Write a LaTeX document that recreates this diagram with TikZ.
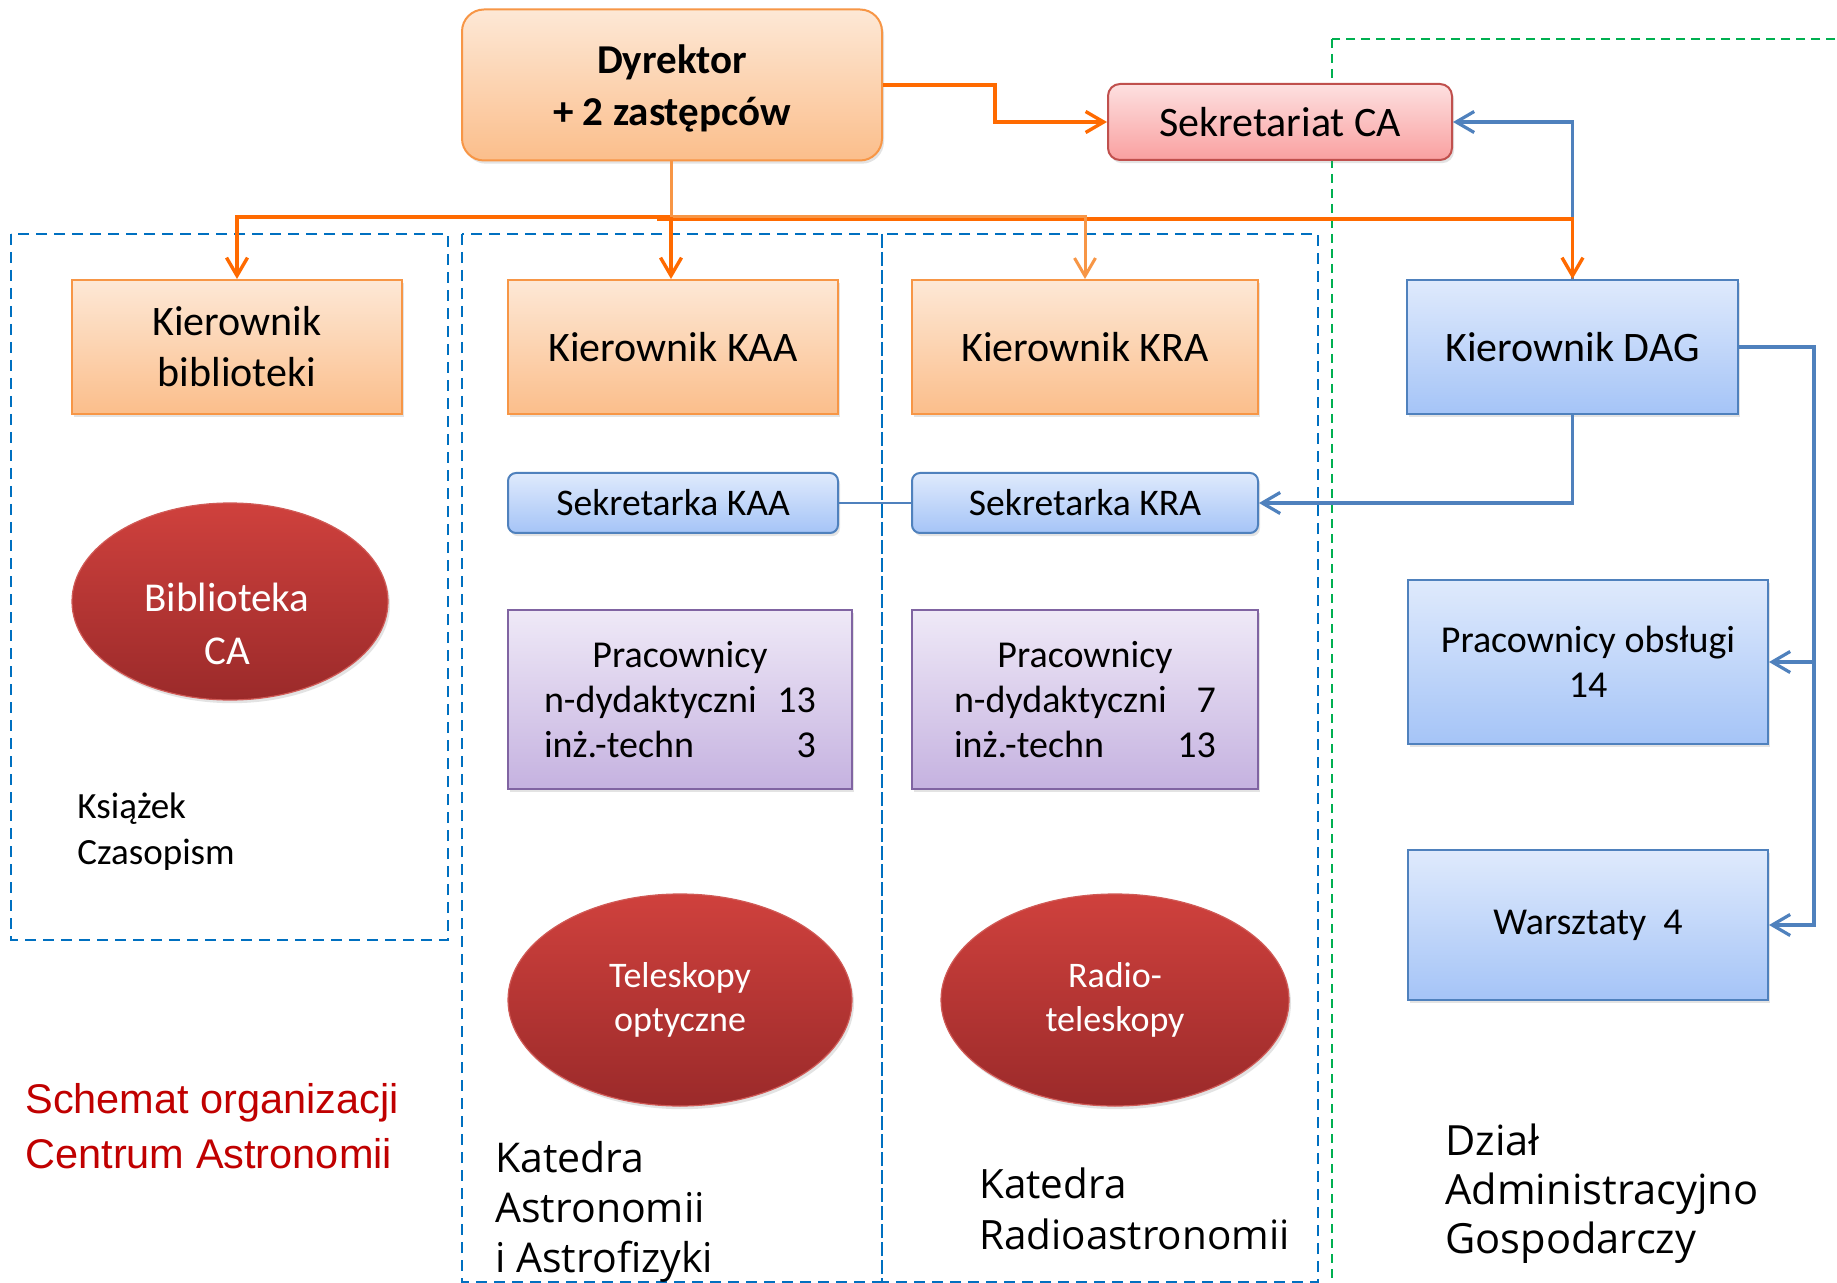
\documentclass[tikz,border=0pt]{standalone}
\usepackage{fontspec}
\setmainfont{Carlito}
\newfontfamily\arialfont{Liberation Sans}
\newfontfamily\handfont{Open Sans}
\usetikzlibrary{arrows.meta,shapes.geometric,shadows}
\definecolor{orDark}{HTML}{FF6A00}
\definecolor{orLight}{HTML}{F79646}
\definecolor{bxBlue}{HTML}{4F81BD}
\definecolor{dashBlue}{HTML}{0070C0}
\definecolor{dashGreen}{HTML}{00B050}
\definecolor{redTxt}{HTML}{C00000}
\definecolor{orTop}{HTML}{FDE8D6}
\definecolor{orBot}{HTML}{FBBE8B}
\definecolor{blTop}{HTML}{DFEAFC}
\definecolor{blBot}{HTML}{A5C4F7}
\definecolor{pkTop}{HTML}{FDE0E0}
\definecolor{pkBot}{HTML}{F9A0A0}
\definecolor{puTop}{HTML}{EFE9F7}
\definecolor{puBot}{HTML}{C5B2E0}
\definecolor{puLine}{HTML}{8064A2}
\definecolor{pkLine}{HTML}{C0504D}
\definecolor{elTop}{HTML}{CF413D}
\definecolor{elBot}{HTML}{9B2A2A}
\definecolor{elLine}{HTML}{D05A56}
\tikzset{
  shad/.style={drop shadow={opacity=0.22, shadow xshift=1pt, shadow yshift=-1.6pt}},
  basebox/.style={rectangle, inner sep=0pt, align=center, shad},
  orbox/.style={basebox, draw=orLight, line width=1pt, top color=orTop, bottom color=orBot,
    font=\fontsize{21}{25.5}\selectfont, minimum height=67pt},
  dyrbox/.style={orbox, rounded corners=11pt, font=\fontsize{20.5}{26}\selectfont\bfseries},
  pkbox/.style={basebox, draw=pkLine, line width=1pt, top color=pkTop, bottom color=pkBot,
    rounded corners=6pt, font=\fontsize{21}{25}\selectfont},
  blbox/.style={basebox, draw=bxBlue, line width=1pt, top color=blTop, bottom color=blBot,
    font=\fontsize{19}{22.5}\selectfont},
  sekbox/.style={blbox, rounded corners=4pt, font=\fontsize{18.8}{22}\selectfont},
  pubox/.style={basebox, draw=puLine, line width=1pt, top color=puTop, bottom color=puBot,
    font=\fontsize{19}{22.5}\selectfont},
  redell/.style={ellipse, inner sep=0pt, draw=elLine, line width=0.6pt, top color=elTop, bottom color=elBot,
    shad, text=white, align=center, font=\fontsize{18}{22}\selectfont},
  wtext/.style={inner sep=0pt, text=white, align=center},
  ltext/.style={inner sep=0pt, align=left, anchor=base west},
  dashB/.style={draw=dashBlue, line width=1.2pt, dash pattern=on 5.5pt off 3.5pt},
  dashG/.style={draw=dashGreen, line width=1pt, dash pattern=on 4.5pt off 3pt},
  arr/.style={-{Straight Barb[length=9pt,width=10.5pt]}},
  orD/.style={draw=orDark, line width=1.7pt},
  orL/.style={draw=orLight, line width=1.5pt},
  blL/.style={draw=bxBlue, line width=1.6pt},
  blThin/.style={draw=bxBlue, line width=0.75pt}
}
\begin{document}
\begin{tikzpicture}[x=0.5pt, y=-0.5pt]
\useasboundingbox[fill=white] (0,0) rectangle (1837,1283);
\clip (0,0) rectangle (1837,1283);

% dashed group frames
\draw[dashB] (11,234) rectangle (448,940);
\draw[dashB] (462,234) rectangle (882,1282);
\draw[dashB] (882,234) rectangle (1318,1282);
\draw[dashG] (1332,39) rectangle (1860,1300);

% nodes
\node[dyrbox, minimum width=210pt, minimum height=75.5pt] (dyr) at (672,85) {\rule{0pt}{17.5pt}Dyrektor\\+ 2 zastępców};
\node[pkbox, minimum width=172pt, minimum height=38pt] (sek) at (1280,122) {Sekretariat CA};

\node[orbox, minimum width=165pt] (kbib) at (237,347) {Kierownik\\biblioteki};
\node[orbox, minimum width=165pt] (kaa) at (673,347) {Kierownik KAA};
\node[orbox, minimum width=173pt] (kra) at (1085,347) {Kierownik KRA};
\node[blbox, minimum width=165.5pt, minimum height=67pt, font=\fontsize{21}{25}\selectfont] (dag) at (1572.5,347) {Kierownik DAG};

\node[sekbox, minimum width=165pt, minimum height=30pt] (skaa) at (673,503) {Sekretarka KAA};
\node[sekbox, minimum width=173pt, minimum height=30pt] (skra) at (1085,503) {Sekretarka KRA};

\node[pubox, minimum width=172pt, minimum height=89.5pt] (pkaa) at (680,699.5)
  {\begin{tabular*}{136pt}{@{}l@{\extracolsep{\fill}}r@{}}\multicolumn{2}{@{}c@{}}{\rule{0pt}{19.3pt}Pracownicy}\\ n-dydaktyczni & 13\\ inż.-techn & 3\end{tabular*}};
\node[pubox, minimum width=173pt, minimum height=89.5pt] (pkra) at (1085,699.5)
  {\begin{tabular*}{131pt}{@{}l@{\extracolsep{\fill}}r@{}}\multicolumn{2}{@{}c@{}}{\rule{0pt}{19.3pt}Pracownicy}\\ n-dydaktyczni & 7\\ inż.-techn & 13\end{tabular*}};

\node[blbox, minimum width=180pt, minimum height=82pt] (pobs) at (1588,662) {Pracownicy obsługi\\14};
\node[blbox, minimum width=180pt, minimum height=75pt] (wars) at (1588,925) {Warsztaty\ \ 4};

\node[redell, minimum width=158pt, minimum height=98.5pt] (bib) at (230,601.5) {};
\node[wtext, font=\fontsize{20.5}{26.5}\selectfont] (bibtxt) at (227,624) {Biblioteka\\CA};
\node[redell, minimum width=172pt, minimum height=106pt] (tel) at (680,1000) {Teleskopy\\optyczne};
\node[redell, minimum width=174pt, minimum height=106pt] (rad) at (1115,1000) {Radio-\\teleskopy};

% free texts (anchored at the baseline of the last line)
\node[ltext, font=\fontsize{18.5}{23}\selectfont] (ksiazki) at (77,864) {Książek\\Czasopism};
\node[ltext, text=redTxt, font=\arialfont\fontsize{20.75}{27.5}\selectfont] (schemat) at (25,1168) {Schemat organizacji\\Centrum Astronomii};
\node[ltext, font=\handfont\fontsize{20.5}{25}\selectfont] (katA) at (495,1272) {Katedra\\Astronomii\\i Astrofizyki};
\node[ltext, font=\handfont\fontsize{20.2}{25.5}\selectfont] (katR) at (979,1249) {Katedra\\Radioastronomii};
\node[ltext, font=\handfont\fontsize{20.8}{24.5}\selectfont] (dzial) at (1445,1253) {Dział\\Administracyjno\\Gospodarczy};

% connectors
\coordinate (bus) at (671,217);
\coordinate (bus2) at (657,219);
\coordinate (dsk) at (995,0);
\coordinate (rail) at (1814,0);

\draw[blL, arr] (dag.north) -- (dag.north |- sek.east) -- (sek.east);
\draw[orD, arr] (dyr.east) -- (dyr.east -| dsk) -- (dsk |- sek.west) -- (sek.west);
\draw[orD, arr] (bus) -| (kbib.north);
\draw[orD, arr] (bus2) -| (dag.north);
\draw[orL, arr] (dyr.south -| bus) -- (bus) -| (kra.north);
\draw[orD, arr] (bus) -- (bus |- kaa.north);

\draw[blL, arr] (dag.south) |- (skra.east);
\draw[blThin] (skaa.east) -- (skra.west);
\draw[blL, arr] (dag.east) -- (dag.east -| rail) |- (wars.east);
\draw[blL, arr] (rail |- pobs.east) -- (pobs.east);
\end{tikzpicture}
\end{document}
